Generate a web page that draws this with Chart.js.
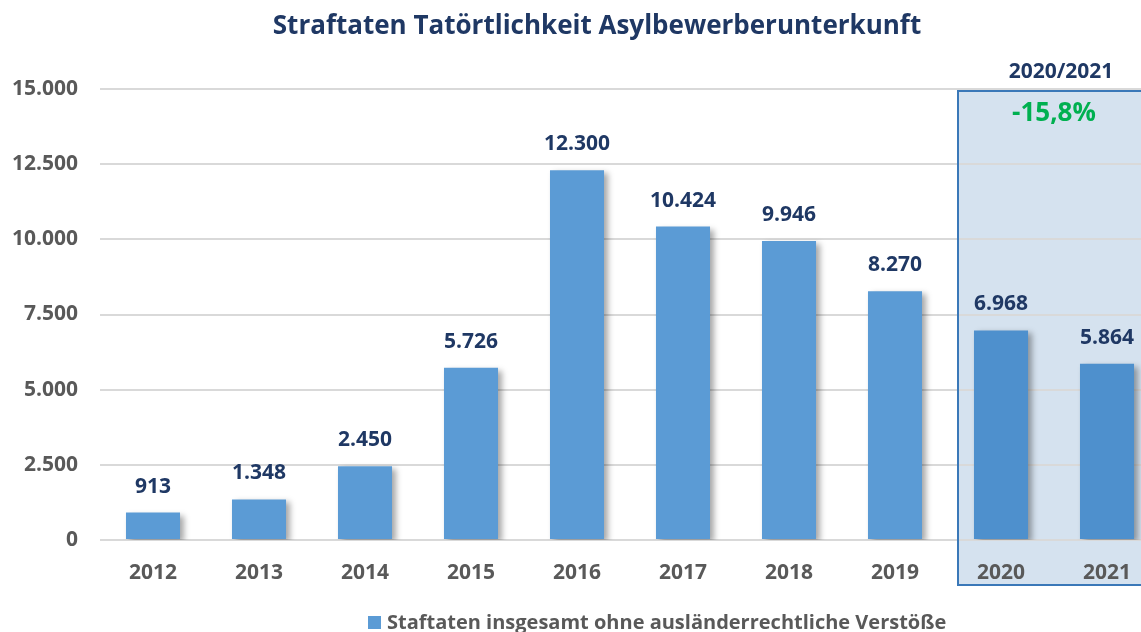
<!DOCTYPE html>
<html lang="de">
<head>
<meta charset="utf-8">
<title>Straftaten Tatörtlichkeit Asylbewerberunterkunft</title>
<script src="https://cdn.jsdelivr.net/npm/chart.js@4/dist/chart.umd.min.js"></script>
<style>
  html, body { margin: 0; padding: 0; background: #fff; overflow: hidden; }
  #wrap { position: relative; width: 1170px; height: 632px; }
</style>
</head>
<body>
<div id="wrap"><canvas id="myChart"></canvas></div>
<script>
const years = ["2012", "2013", "2014", "2015", "2016", "2017", "2018", "2019", "2020", "2021"];
const offences = [913, 1348, 2450, 5726, 12300, 10424, 9946, 8270, 6968, 5864];
const yTicks = [0, 2500, 5000, 7500, 10000, 12500, 15000];
const titleText = "Straftaten Tatörtlichkeit Asylbewerberunterkunft";
const seriesName = "Staftaten insgesamt ohne ausländerrechtliche Verstöße";
const compareYears = ["2020", "2021"];
const compareText = "2020/2021";
const changeText = "-15,8%";

const navy = "#1f3864";
const grey = "#595959";
const blue = "#5b9bd5";
const font = "'Open Sans', 'DejaVu Sans', sans-serif";

// bars inside the 2020/2021 box sit on the blue panel and look a bit darker
const barColors = years.map((y) => (compareYears.includes(y) ? "#4e90cd" : blue));

// soft drop shadow under the bars
const barShadow = {
  id: "barShadow",
  beforeDatasetsDraw(chart) {
    const c = chart.ctx;
    c.save();
    c.shadowColor = "rgba(0,0,0,0.35)";
    c.shadowBlur = 6;
    c.shadowOffsetX = 4;
    c.shadowOffsetY = 3;
  },
  afterDatasetsDraw(chart) {
    chart.ctx.restore();
  },
};

// highlighted panel around the last two years
function panelRect(chart) {
  const x = chart.scales.x;
  const a = x.getPixelForValue(years.indexOf(compareYears[0]));
  const b = x.getPixelForValue(years.indexOf(compareYears[1]));
  const mid = (a + b) / 2;
  return {
    mid: mid,
    left: mid - 96,
    right: mid + 96,
    top: chart.chartArea.top + 2,
    bottom: chart.chartArea.bottom + 45,
  };
}

const comparePanel = {
  id: "comparePanel",
  beforeDraw(chart) {
    const c = chart.ctx;
    const r = panelRect(chart);
    c.save();
    c.fillStyle = "#d5e2ef";
    c.fillRect(r.left, r.top, r.right - r.left, r.bottom - r.top);
    c.restore();
  },
  afterDraw(chart) {
    const c = chart.ctx;
    const r = panelRect(chart);
    c.save();
    c.strokeStyle = "#3a78b8";
    c.lineWidth = 2;
    c.strokeRect(r.left, r.top, r.right - r.left, r.bottom - r.top);
    c.textAlign = "center";
    c.textBaseline = "middle";
    c.fillStyle = navy;
    c.font = "bold 21px " + font;
    c.fillText(compareText, r.mid + 7, r.top - 19);
    c.fillStyle = "#00b050";
    c.font = "bold 26px " + font;
    c.fillText(changeText, r.mid, r.top + 23);
    c.restore();
  },
};

// value above every bar
const valueLabels = {
  id: "valueLabels",
  afterDatasetsDraw(chart) {
    const c = chart.ctx;
    const meta = chart.getDatasetMeta(0);
    c.save();
    c.fillStyle = navy;
    c.font = "bold 21px " + font;
    c.textAlign = "center";
    c.textBaseline = "middle";
    meta.data.forEach((bar, i) => {
      c.fillText(offences[i].toLocaleString("de-DE"), bar.x, bar.y - 26);
    });
    c.restore();
  },
};

// title on top and the single legend entry at the bottom
const headerFooter = {
  id: "headerFooter",
  afterDraw(chart) {
    const c = chart.ctx;
    c.save();
    c.textBaseline = "alphabetic";
    c.textAlign = "center";
    c.fillStyle = navy;
    c.font = "bold 26px " + font;
    c.fillText(titleText, 597, 34);

    c.fillStyle = blue;
    c.fillRect(368, 616, 13, 13);
    c.textAlign = "left";
    c.fillStyle = grey;
    c.font = "bold 20px " + font;
    c.fillText(seriesName, 387, 629);
    c.restore();
  },
};

const ctx = document.getElementById("myChart");

const chart = new Chart(ctx, {
  type: "bar",
  data: {
    labels: years,
    datasets: [
      {
        label: seriesName,
        data: offences,
        backgroundColor: barColors,
        borderWidth: 0,
        barPercentage: 0.51,
        categoryPercentage: 1,
      },
    ],
  },
  options: {
    responsive: true,
    maintainAspectRatio: false,
    animation: false,
    locale: "de-DE",
    layout: { padding: { left: 0, right: 10, top: 89, bottom: 23 } },
    plugins: {
      title: { display: false },
      legend: { display: false },
      tooltip: { enabled: false },
    },
    scales: {
      x: {
        grid: { display: false },
        border: { display: false },
        ticks: {
          color: grey,
          font: { family: font, size: 21, weight: "bold" },
          padding: 12,
        },
        afterFit(scale) {
          scale.height = 69;
        },
      },
      y: {
        min: 0,
        max: 15000,
        afterBuildTicks(scale) {
          scale.ticks = yTicks.map((v) => ({ value: v }));
        },
        grid: { color: "#d9d9d9", lineWidth: 2, drawTicks: false },
        border: { display: false },
        ticks: {
          color: grey,
          font: { family: font, size: 21, weight: "bold" },
          padding: 22,
        },
        afterFit(scale) {
          scale.width = 100;
        },
      },
    },
  },
  plugins: [comparePanel, barShadow, valueLabels, headerFooter],
});
</script>
</body>
</html>
